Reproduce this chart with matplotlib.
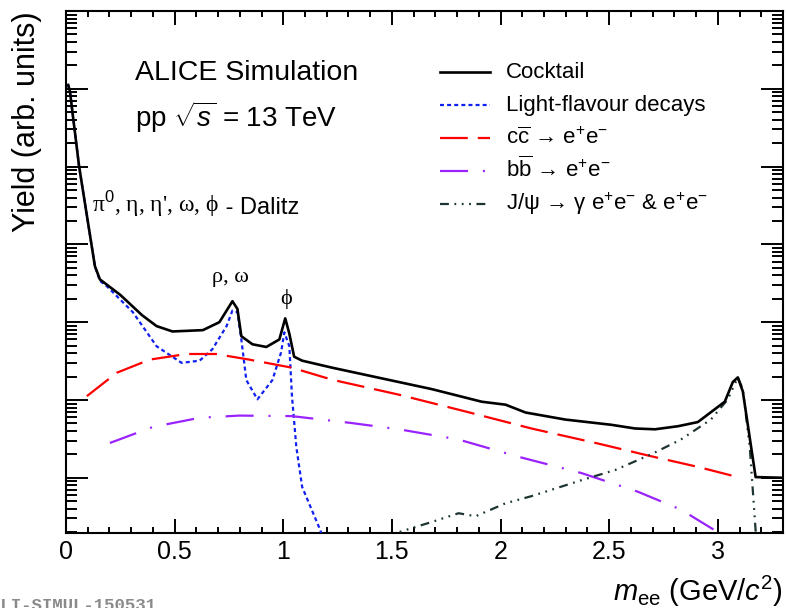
import numpy as np
import matplotlib
matplotlib.use("Agg")
import matplotlib.pyplot as plt
from matplotlib.lines import Line2D
from matplotlib.ticker import LogLocator, NullFormatter, MultipleLocator

plt.rcParams['font.family'] = ['Liberation Sans', 'DejaVu Sans']
plt.rcParams['mathtext.fontset'] = 'custom'
plt.rcParams['mathtext.rm'] = 'Liberation Sans'
plt.rcParams['mathtext.it'] = 'Liberation Sans:italic'
plt.rcParams['mathtext.bf'] = 'Liberation Sans:bold'

# cocktail sum
x_cocktail = [0.01, 0.018, 0.06, 0.133, 0.156, 0.25, 0.35, 0.417, 0.49, 0.63, 0.706,
              0.766, 0.789, 0.807, 0.858, 0.922, 0.982, 1.009, 1.028, 1.05, 1.087,
              1.225, 1.532, 1.683, 1.913, 2.023, 2.115, 2.298, 2.509, 2.619, 2.711,
              2.817, 2.908, 3.032, 3.069, 3.092, 3.115, 3.174, 3.3]
y_cocktail = [1.12e5, 9.3e4, 1.02e4, 525, 355, 224, 123, 89, 76, 79, 100,
              186, 148, 66, 52, 48, 60, 112, 71, 36, 32,
              26, 17, 13.8, 9.5, 8.7, 6.9, 5.6, 4.8, 4.3, 4.2,
              4.6, 5.2, 9.5, 17, 19.5, 12.9, 1.02, 1.0]

# light-flavour decays
x_lf = [0.01, 0.018, 0.06, 0.133, 0.156, 0.188, 0.307, 0.417, 0.532, 0.615, 0.674,
        0.739, 0.766, 0.789, 0.807, 0.83, 0.881, 0.95, 0.99, 1.005, 1.028, 1.04,
        1.06, 1.087, 1.165, 1.2]
y_lf = [1.12e5, 9.3e4, 1.02e4, 525, 340, 290, 135, 49, 30, 32, 45,
        89, 141, 135, 60, 18, 10.2, 18, 41, 74, 49, 11.2,
        2.5, 0.76, 0.23, 0.13]

# c cbar
x_cc = [0.096, 0.234, 0.385, 0.555, 0.69, 0.844, 1.04, 1.225, 1.532, 1.84, 2.142,
        2.45, 2.69, 2.908, 3.092]
y_cc = [11.2, 22.4, 33, 39, 39, 33, 26, 18.2, 11.7, 7.1, 4.3, 2.75, 1.9, 1.38, 1.02]

# b bbar
x_bb = [0.202, 0.4, 0.615, 0.798, 1.04, 1.303, 1.532, 1.807, 2.083, 2.372, 2.633,
        2.83, 3.0]
y_bb = [2.8, 4.5, 5.9, 6.3, 6.2, 5.1, 4.2, 3.1, 1.86, 1.15, 0.66, 0.39, 0.2]

# J/psi
x_jpsi = [1.48, 1.532, 1.683, 1.807, 1.885, 2.023, 2.142, 2.372, 2.528, 2.693, 2.83,
          2.968, 3.046, 3.092, 3.115, 3.147, 3.174, 3.18]
y_jpsi = [0.16, 0.2, 0.27, 0.35, 0.32, 0.47, 0.58, 0.93, 1.26, 2.0, 3.1,
          5.6, 10.2, 19.5, 13.8, 2.5, 0.21, 0.16]

labels = ['Cocktail', 'Light-flavour decays',
          r'c$\overline{\mathrm{c}}$ → e$^{+}$e$^{-}$',
          r'b$\overline{\mathrm{b}}$ → e$^{+}$e$^{-}$',
          r'J/ψ → γ e$^{+}$e$^{-}$ & e$^{+}$e$^{-}$']

fig = plt.figure(figsize=(7.87, 6.08), dpi=100)
ax = fig.add_axes([66/787, 75/608, 717/787, 522/608])

lw = 1.6
styles = [
    dict(color='black', lw=1.9),
    dict(color='#1020ee', lw=lw, dashes=(1.8, 1.4)),
    dict(color='#ff0000', lw=lw, dashes=(12.5, 4.5)),
    dict(color='#9922ff', lw=lw, dashes=(12.6, 6.7, 0.9, 6.7)),
    dict(color='#1c3533', lw=lw, dashes=(4, 2.5, 0.8, 2.5, 0.8, 2.5, 0.8, 2.5)),
]
series = [(x_cocktail, y_cocktail), (x_lf, y_lf), (x_cc, y_cc), (x_bb, y_bb),
          (x_jpsi, y_jpsi)]
for i, ((xs, ys), st) in enumerate(zip(series, styles)):
    ax.plot(xs, ys, zorder=5 if i == 0 else 3, **st)

ax.set_yscale('log')
ax.set_xlim(0, 3.3)
ax.set_ylim(0.195, 1e6)

ax.xaxis.set_major_locator(MultipleLocator(0.5))
ax.xaxis.set_minor_locator(MultipleLocator(0.1))
ax.xaxis.set_major_formatter(plt.FuncFormatter(lambda v, p: f'{v:g}'))
ax.yaxis.set_major_locator(LogLocator(base=10, numticks=20))
ax.yaxis.set_minor_locator(LogLocator(base=10, subs=np.arange(2, 10), numticks=20))
ax.yaxis.set_major_formatter(NullFormatter())
ax.yaxis.set_minor_formatter(NullFormatter())

ax.tick_params(axis='both', which='both', direction='in', top=True, right=True, width=1.4)
ax.tick_params(axis='x', which='major', length=10, labelsize=18, pad=5)
ax.tick_params(axis='x', which='minor', length=4.5)
ax.tick_params(axis='y', which='major', length=16)
ax.tick_params(axis='y', which='minor', length=8)
for s in ax.spines.values():
    s.set_linewidth(1.5)

ax.set_ylabel('Yield (arb. units)', loc='top', fontsize=22, labelpad=14)
ax.set_xlabel(r'$m_{\mathrm{ee}}$ (GeV/$c^{2}$)', loc='right', fontsize=21, labelpad=7)

# legend drawn by hand so the rows keep an even pitch (ROOT TLegend look)
leg_x0, leg_x1, leg_tx = 0.5216, 0.5914, 0.6137
leg_y0, leg_dy = 0.8831, 0.0632
for i, (lab, st) in enumerate(zip(labels, styles)):
    yy = leg_y0 - i * leg_dy
    ax.add_line(Line2D([leg_x0, leg_x1], [yy, yy], transform=ax.transAxes, **st))
    ax.text(leg_tx, yy - 0.0115, lab, transform=ax.transAxes, fontsize=16,
            ha='left', va='baseline')

ax.text(0.096, 0.881, 'ALICE Simulation', transform=ax.transAxes, fontsize=20.5,
        ha='left', va='center')
ax.text(0.096, 0.797, r'pp $\sqrt{s}$ = 13 TeV', transform=ax.transAxes, fontsize=20,
        ha='left', va='center')

t1 = ax.text(0.036, 0.63, "π$^{0}$, η, η', ω, ϕ", transform=ax.transAxes, fontsize=17,
             family=['Liberation Serif', 'DejaVu Serif'], ha='left', va='center')
ax.annotate(' - Dalitz', xy=(1, 0), xycoords=t1, ha='left', va='bottom', fontsize=17)

ax.text(0.757, 370, 'ρ, ω', fontsize=16, family=['Liberation Serif', 'DejaVu Serif'],
        ha='center', va='center')
ax.text(1.014, 200, 'ϕ', fontsize=16, family=['Liberation Serif', 'DejaVu Serif'],
        ha='center', va='center')

fig.text(-10.5/787, -0.004, 'ALI-SIMUL-150531', fontsize=12.5, color='#8a8a8a',
         family=['Liberation Mono', 'DejaVu Sans Mono'], weight='bold', va='baseline')

fig.savefig('out.png', dpi=100)
